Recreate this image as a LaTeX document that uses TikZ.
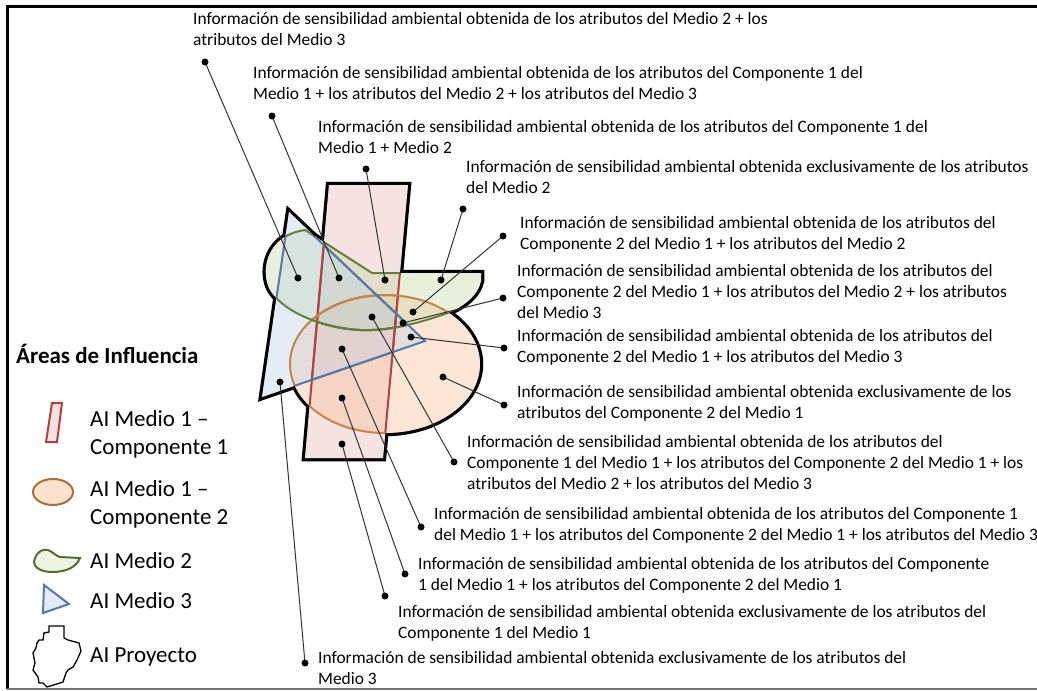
\documentclass[tikz,border=0pt]{standalone}
\usepackage{fontspec}
\setmainfont{Carlito}

\definecolor{compuno}{RGB}{172,66,66}
\definecolor{compunofill}{RGB}{230,180,182}
\definecolor{compdos}{RGB}{198,132,70}
\definecolor{compdosfill}{RGB}{250,190,145}
\definecolor{medioa}{RGB}{98,128,56}
\definecolor{medioafill}{RGB}{196,215,160}
\definecolor{mediob}{RGB}{84,122,170}
\definecolor{mediobfill}{RGB}{186,208,232}

\begin{document}
\begin{tikzpicture}[x=1pt, y=-1pt,
		dot/.style={circle, fill=black, inner sep=0pt, minimum size=7pt},
		leader/.style={draw=black!80, line width=1pt},
		info/.style={anchor=north west, align=left, inner sep=0pt, font=\fontsize{17.4}{20.8}\selectfont, execute at begin node=\strut},
		legtext/.style={anchor=north west, align=left, inner sep=0pt, font=\fontsize{23}{28}\selectfont, execute at begin node=\strut},
		areaedge/.style={line width=2pt}]
		\useasboundingbox (0,0) rectangle (1037,691);
		% marco
		\draw[line width=3pt] (7,689) -- (7,6) -- (1037,6);
		\draw[black!55, line width=2pt] (7,689) -- (1037,689);

		% areas de influencia
		\def\areaA{(329,185) -- (408,185) -- (383,458) -- (305,458) -- cycle}
		\def\areaB{(385,364) ellipse [x radius=95, y radius=69]}
		\def\areaC{(305,230) -- (372,273) -- (481,273) -- (481,281) .. controls (478,296) and (462,308) .. (445,314) .. controls (410,326) and (385,331) .. (360,330) .. controls (320,328) and (280,310) .. (269,288) .. controls (262,272) and (266,250) .. (283,238) .. controls (291,233) and (298,231) .. (305,230) -- cycle}
		\def\areaD{(289,212) -- (425,341) -- (262,397) -- cycle}
		\foreach \s in {\areaA,\areaB,\areaC,\areaD}
			\draw[line width=6.5pt] \s;
		\foreach \s in {\areaA,\areaB,\areaC,\areaD}
			\fill[white] \s;
		\foreach \s/\c in {\areaA/compunofill,\areaB/compdosfill,\areaC/medioafill,\areaD/mediobfill}
			\fill[\c, fill opacity=0.38] \s;
		\foreach \s/\c in {\areaA/compuno,\areaB/compdos,\areaC/medioa,\areaD/mediob}
			\foreach \k in {\areaA,\areaB,\areaC,\areaD} {
				\ifx\s\k\else
				\begin{scope}
					\clip \k;
					\draw[\c, areaedge] \s;
				\end{scope}
				\fi
			}

		% textos
		\node[info] (t1) at (193,12.4) {Información de sensibilidad ambiental obtenida de los atributos del Medio 2 + los\\atributos del Medio 3};
		\node[info] (t2) at (253,66.4) {Información de sensibilidad ambiental obtenida de los atributos del Componente 1 del\\Medio 1 + los atributos del Medio 2 + los atributos del Medio 3};
		\node[info] (t3) at (318,120.4) {Información de sensibilidad ambiental obtenida de los atributos del Componente 1 del\\Medio 1 + Medio 2};
		\node[info] (t4) at (466,160.4) {Información de sensibilidad ambiental obtenida exclusivamente de los atributos\\del Medio 2};
		\node[info] (t5) at (520,216.4) {Información de sensibilidad ambiental obtenida de los atributos del\\Componente 2 del Medio 1 + los atributos del Medio 2};
		\node[info] (t6) at (517,264.4) {Información de sensibilidad ambiental obtenida de los atributos del\\Componente 2 del Medio 1 + los atributos del Medio 2 + los atributos\\del Medio 3};
		\node[info] (t7) at (517,329.4) {Información de sensibilidad ambiental obtenida de los atributos del\\Componente 2 del Medio 1 + los atributos del Medio 3};
		\node[info] (t8) at (517,385.4) {Información de sensibilidad ambiental obtenida exclusivamente de los\\atributos del Componente 2 del Medio 1};
		\node[info] (t9) at (467,435.4) {Información de sensibilidad ambiental obtenida de los atributos del\\Componente 1 del Medio 1 + los atributos del Componente 2 del Medio 1 + los\\atributos del Medio 2 + los atributos del Medio 3};
		\node[info] (t10) at (434,507.4) {Información de sensibilidad ambiental obtenida de los atributos del Componente 1\\del Medio 1 + los atributos del Componente 2 del Medio 1 + los atributos del Medio 3};
		\node[info] (t11) at (418,557.4) {Información de sensibilidad ambiental obtenida de los atributos del Componente\\1 del Medio 1 + los atributos del Componente 2 del Medio 1};
		\node[info] (t12) at (398,605.4) {Información de sensibilidad ambiental obtenida exclusivamente de los atributos del\\Componente 1 del Medio 1};
		\node[info] (t13) at (318,651.4) {Información de sensibilidad ambiental obtenida exclusivamente de los atributos del\\Medio 3};

		% puntos y lineas
		\foreach \i/\x/\y in {1/205/62, 2/272/116, 3/366/169, 4/463/209, 5/503/236, 6/503/298, 7/504/348, 8/504/405, 9/454/462, 10/421/527, 11/405/574, 12/385/596, 13/305/663}
			\coordinate (out\i) at (\x,\y);
		\foreach \i/\x/\y in {1/298/278, 2/339/278, 3/385/280, 4/441/280, 5/413/312, 6/403/323, 7/411/337, 8/443/377, 9/372/317, 10/342/349, 11/342/398, 12/342/444, 13/280/382}
			\coordinate (in\i) at (\x,\y);
		\foreach \i in {1,...,13} {
			\draw[leader] (out\i) -- (in\i);
			\node[dot] (a\i) at (out\i) {};
			\node[dot] (b\i) at (in\i) {};
		}

		% leyenda
		\node[legtext, font=\fontsize{23}{28}\selectfont\bfseries] (titulo) at (16,343.4) {Áreas de Influencia};
		\draw[compuno, fill=compunofill!40, line width=2pt] (52,403) -- (62,403) -- (57,442) -- (46,442) -- cycle;
		\node[legtext] (leg1) at (90,410.4) {AI Medio 1 –\\Componente 1};
		\draw[compdos!85!black, fill=compdosfill!45, line width=2pt] (53,492) ellipse [x radius=20, y radius=13];
		\node[legtext] (leg2) at (90,480.4) {AI Medio 1 –\\Componente 2};
		\draw[medioa!85!black, fill=medioafill!30, line width=2pt] (34,562) .. controls (35,553) and (43,548) .. (48,550) .. controls (53,552) and (56,556) .. (60,557) -- (80,558) .. controls (76,568) and (65,572) .. (52,572) .. controls (42,572) and (34,568) .. (34,562) -- cycle;
		\node[legtext] (leg3) at (90,548.4) {AI Medio 2};
		\draw[mediob, fill=mediobfill!40, line width=2pt] (44,585) -- (69,604) -- (43,613) -- cycle;
		\node[legtext] (leg4) at (90,588.4) {AI Medio 3};
		\draw[line width=1.3pt, fill=white] (49,626) -- (64,626) -- (64,638) -- (68,640) -- (79,643) -- (81,651) -- (77,660) -- (73,667) -- (68,670) -- (66,673) -- (63,682) -- (60,683) -- (47,687) -- (43,683) -- (39,683) -- (38,677) -- (33,670) -- (35,663) -- (33,653) -- (36,648) -- (37,643) -- (39,640) -- (43,640) -- (44,633) -- (49,632) -- cycle;
		\node[legtext] (leg5) at (90,642.4) {AI Proyecto};
	\end{tikzpicture}
\end{document}
